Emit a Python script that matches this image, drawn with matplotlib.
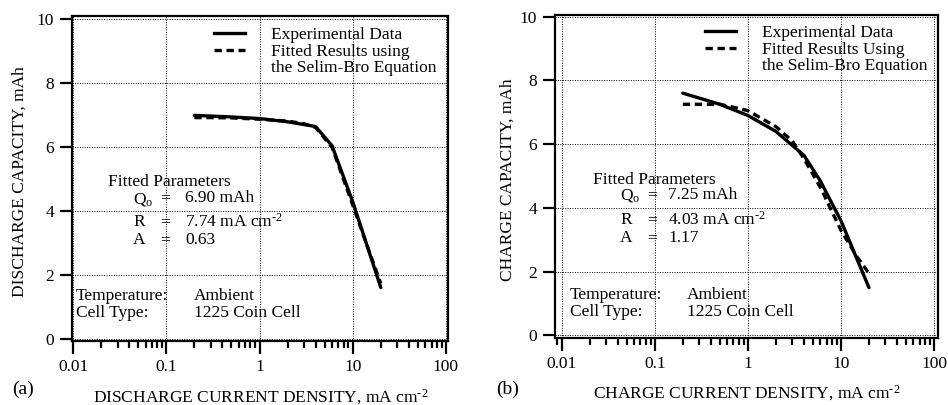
import matplotlib
matplotlib.use("Agg")
import matplotlib.pyplot as plt
from matplotlib.lines import Line2D
from matplotlib.ticker import LogLocator, NullFormatter, FixedLocator

plt.rcParams['font.family'] = ['Liberation Serif', 'DejaVu Serif']
plt.rcParams['mathtext.fontset'] = 'custom'
plt.rcParams['mathtext.rm'] = 'Liberation Serif'
plt.rcParams['mathtext.it'] = 'Liberation Serif:italic'

# ---- data (a) discharge ----
cur_exp_a = [0.2, 0.5, 1, 2, 4, 6, 10, 20]
cap_exp_a = [7.0, 6.95, 6.9, 6.8, 6.65, 6.05, 4.3, 1.62]
cur_fit_a = [0.2, 0.3, 0.5, 1, 2, 3, 4, 6, 10, 15, 20]
cap_fit_a = [6.93, 6.93, 6.92, 6.88, 6.82, 6.74, 6.62, 6.0, 4.2, 2.75, 1.75]

# ---- data (b) charge ----
cur_exp_b = [0.2, 0.5, 1, 2, 4, 6, 10, 20]
cap_exp_b = [7.6, 7.25, 6.9, 6.4, 5.65, 4.85, 3.6, 1.5]
cur_fit_b = [0.2, 0.3, 0.5, 0.8, 1, 2, 3, 4, 6, 10, 15, 20]
cap_fit_b = [7.25, 7.25, 7.25, 7.12, 7.05, 6.55, 6.1, 5.55, 4.65, 3.3, 2.45, 1.95]

xticks = [0.01, 0.1, 1, 10, 100]
xticklabels = ['0.01', '0.1', '1', '10', '100']
yticks = [0, 2, 4, 6, 8, 10]

legend_labels_a = ['Experimental Data', 'Fitted Results using', 'the Selim-Bro Equation']
legend_labels_b = ['Experimental Data', 'Fitted Results Using', 'the Selim-Bro Equation']

SUP = '$^{\\text{-2}}$'

W, H = 948, 405
fig = plt.figure(figsize=(W / 100, H / 100), dpi=100)

FS = 12.5

def px_axes(l, r, t, b):
    return fig.add_axes([l / W, 1 - b / H, (r - l) / W, (b - t) / H])

def ftext(x, y, s, **kw):
    kw.setdefault('fontsize', FS)
    kw.setdefault('va', 'center')
    fig.text(x / W, 1 - y / H, s, **kw)

def style(ax, xlim, ylim):
    ax.set_xscale('log')
    ax.set_xlim(*xlim)
    ax.set_ylim(*ylim)
    ax.xaxis.set_major_locator(FixedLocator(xticks))
    ax.set_xticklabels(xticklabels)
    ax.xaxis.set_minor_locator(LogLocator(base=10, subs=range(2, 10)))
    ax.xaxis.set_minor_formatter(NullFormatter())
    ax.set_yticks(yticks)
    ax.tick_params(axis='both', which='major', direction='out', length=9, width=1.6,
                   labelsize=FS, colors='black', pad=4)
    ax.tick_params(axis='x', which='minor', direction='out', length=5, width=1.6)
    ax.tick_params(axis='y', which='minor', left=False)
    for s in ax.spines.values():
        s.set_linewidth(1.6)
    ax.grid(True, which='major', color='black', linestyle=(0, (1, 1.5)), linewidth=0.7)

def legend(ax, labels, anchor):
    h1 = Line2D([], [], color='black', lw=2.4)
    h2 = Line2D([], [], color='black', lw=2.4, linestyle=(0, (2.2, 1.4)))
    h3 = Line2D([], [], color='none')
    ax.legend([h1, h2, h3], labels, loc='upper left', bbox_to_anchor=anchor,
              bbox_transform=fig.transFigure, frameon=False, fontsize=FS,
              handlelength=1.8, handletextpad=1.5, labelspacing=0.02,
              borderpad=0, borderaxespad=0)

# ---------- panel (a) ----------
ax1 = px_axes(72.3, 448.3, 15.5, 341)
style(ax1, (0.0098, 106), (-0.05, 10.12))
ax1.plot(cur_exp_a, cap_exp_a, color='black', lw=2.4, solid_capstyle='round')
ax1.plot(cur_fit_a, cap_fit_a, color='black', lw=2.4, linestyle=(0, (2.2, 1.4)))
ax1.set_ylabel('DISCHARGE CAPACITY, mAh', fontsize=FS)
ax1.yaxis.set_label_coords(-0.118, 0.49)
ax1.set_xlabel('DISCHARGE CURRENT DENSITY, mA cm' + SUP, fontsize=FS)
ax1.xaxis.set_label_coords(0.5, -0.141)
legend(ax1, legend_labels_a, (214 / W, 1 - 27 / H))

ftext(108, 182, 'Fitted Parameters')
ftext(133, 199, 'Q$_{\\mathregular{o}}$')
ftext(160, 198, '=')
ftext(185, 198, '6.90 mAh')
ftext(133, 222, 'R')
ftext(160, 222, '=')
ftext(185, 222, '7.74 mA cm' + SUP)
ftext(133, 240, 'A')
ftext(160, 240, '=')
ftext(185, 240, '0.63')
ftext(76, 296, 'Temperature:')
ftext(194, 296, 'Ambient')
ftext(76, 313, 'Cell Type:')
ftext(194, 313, '1225 Coin Cell')
ftext(12, 389, '(a)', fontsize=14)

# ---------- panel (b) ----------
ax2 = px_axes(555, 938, 14.7, 337.7)
style(ax2, (0.00847, 110.4), (-0.07, 10.06))
ax2.plot(cur_exp_b, cap_exp_b, color='black', lw=2.4, solid_capstyle='round')
ax2.plot(cur_fit_b, cap_fit_b, color='black', lw=2.4, linestyle=(0, (2.2, 1.4)))
ax2.set_ylabel('CHARGE CAPACITY, mAh', fontsize=FS)
ax2.yaxis.set_label_coords(-0.104, 0.49)
ax2.set_xlabel('CHARGE CURRENT DENSITY, mA cm' + SUP, fontsize=FS)
ax2.xaxis.set_label_coords(0.5, -0.141)
legend(ax2, legend_labels_b, (705 / W, 1 - 25 / H))

ftext(593, 180, 'Fitted Parameters')
ftext(620, 196, 'Q$_{\\mathregular{o}}$')
ftext(647, 195, '=')
ftext(668, 195, '7.25 mAh')
ftext(620, 220, 'R')
ftext(647, 220, '=')
ftext(668, 220, '4.03 mA cm' + SUP)
ftext(620, 238, 'A')
ftext(647, 238, '=')
ftext(668, 238, '1.17')
ftext(570, 295, 'Temperature:')
ftext(687, 295, 'Ambient')
ftext(570, 312, 'Cell Type:')
ftext(687, 312, '1225 Coin Cell')
ftext(496, 389, '(b)', fontsize=14)

fig.savefig('out.png', dpi=100)
